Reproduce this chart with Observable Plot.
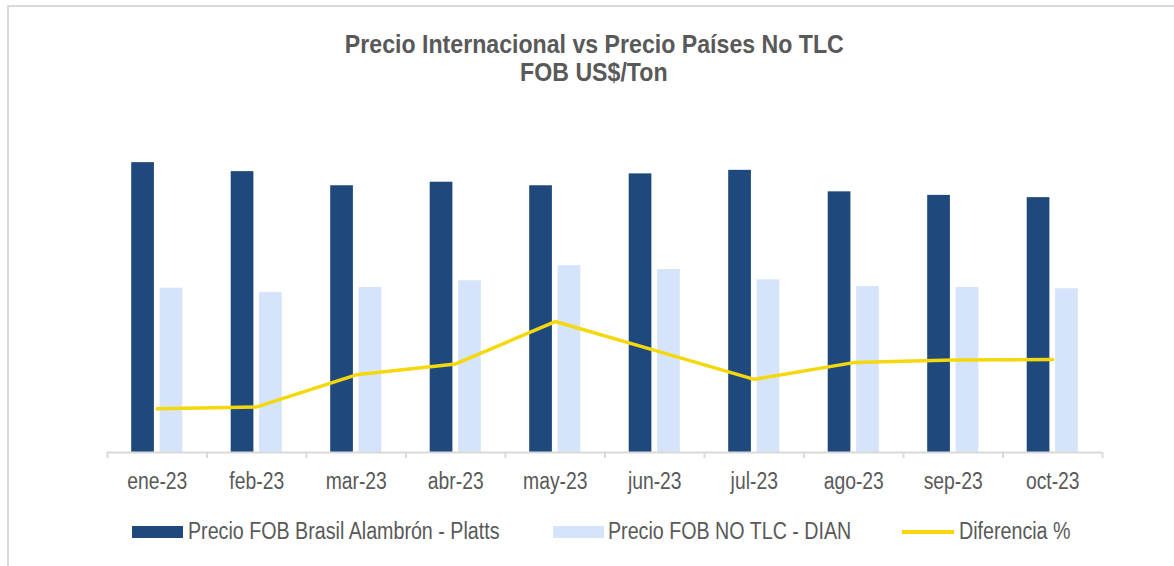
<!DOCTYPE html>
<html>
<head>
<meta charset="utf-8">
<script src="https://cdn.jsdelivr.net/npm/d3@7"></script>
<script src="https://cdn.jsdelivr.net/npm/@observablehq/plot@0.6"></script>
<style>
  html, body { margin: 0; padding: 0; background: #fff; }
  #wrap { position: relative; width: 1174px; height: 566px; overflow: hidden;
          font-family: "Liberation Sans Narrow", "Arial Narrow", "Liberation Sans", Arial, sans-serif; color: #595959; }
  #frame { position: absolute; left: 7px; top: 5px; width: 1200px; height: 600px;
           border-top: 2px solid #d9d9d9; border-left: 2px solid #d9d9d9; }
  .title { position: absolute; left: 194px; width: 800px; text-align: center;
           font-weight: bold; font-size: 26px; line-height: 26px; white-space: nowrap; }
  .title span { display: inline-block; transform: scaleX(0.89); transform-origin: center; }
  #chart { position: absolute; left: 0; top: 0; }
  .leg { position: absolute; top: 520px; font-size: 23px; line-height: 23px; white-space: nowrap;
         transform: scaleX(0.855); transform-origin: left center; }
  .sw { position: absolute; }
</style>
</head>
<body>
<div id="wrap">
  <div id="frame"></div>
  <div class="title" style="top:31px"><span>Precio Internacional vs Precio Países No TLC</span></div>
  <div class="title" style="top:59px"><span>FOB US$/Ton</span></div>
  <div id="chart"></div>
  <div class="sw" style="left:132px; top:526px; width:51px; height:12px; background:#1F497D"></div>
  <div class="leg" style="left:188px">Precio FOB Brasil Alambrón - Platts</div>
  <div class="sw" style="left:553px; top:526px; width:51px; height:12px; background:#D5E4FB"></div>
  <div class="leg" style="left:608px">Precio FOB NO TLC - DIAN</div>
  <div class="sw" style="left:902px; top:530px; width:52px; height:3.5px; background:#F4D80C"></div>
  <div class="leg" style="left:959px">Diferencia %</div>
</div>
<script>
// Data
const months = ["ene-23", "feb-23", "mar-23", "abr-23", "may-23", "jun-23", "jul-23", "ago-23", "sep-23", "oct-23"];
const platts = [903, 875, 831, 842, 831, 868, 879, 812, 801, 794];       // Precio FOB Brasil Alambrón - Platts (US$/Ton)
const dian = [512, 498, 514, 535, 582, 570, 538, 517, 514, 510];         // Precio FOB NO TLC - DIAN (US$/Ton)
const diferencia = [-43.2, -42.9, -37.9, -36.2, -29.6, -34.1, -38.6, -36.0, -35.6, -35.5]; // Diferencia % (secondary axis)

const priceDomain = [0, 1000];
const pctDomain = [-50, 0];

const rows = months.map((m, i) => ({month: m, platts: platts[i], dian: dian[i], diff: diferencia[i]}));
// map the secondary (%) axis onto the primary one
const toPrimary = v => priceDomain[0] + (v - pctDomain[0]) / (pctDomain[1] - pctDomain[0]) * (priceDomain[1] - priceDomain[0]);

const W = 1174, H = 500, ML = 107, MR = 72;
const step = (W - ML - MR) / months.length;
const barW = 22.7, gap = 5.7;
const inset = (step - barW) / 2;
const off = (barW + gap) / 2;

const chart = Plot.plot({
  width: W, height: H,
  marginLeft: ML, marginRight: MR, marginTop: 131, marginBottom: 48,
  x: {domain: months, padding: 0, round: false, tickSize: 0, tickPadding: 20, label: null},
  y: {domain: priceDomain, axis: null},
  style: {fontFamily: '"Liberation Sans Narrow", "Arial Narrow", "Liberation Sans", Arial, sans-serif', fontSize: "23px", color: "#595959", background: "transparent"},
  marks: [
    Plot.barY(rows, {x: "month", y: "platts", fill: "#1F497D", dx: -off, insetLeft: inset, insetRight: inset}),
    Plot.barY(rows, {x: "month", y: "dian", fill: "#D5E4FB", dx: off, insetLeft: inset, insetRight: inset}),
    Plot.ruleY([0], {stroke: "#d9d9d9", strokeWidth: 2}),
    Plot.ruleX(months, {x: d => d, y1: 0, y2: 0, dx: -step / 2, insetBottom: -6, stroke: "#d9d9d9", strokeWidth: 2}),
    Plot.ruleX(months.slice(-1), {x: d => d, y1: 0, y2: 0, dx: step / 2, insetBottom: -6, stroke: "#d9d9d9", strokeWidth: 2}),
    Plot.line(rows, {x: "month", y: d => toPrimary(d.diff), stroke: "#F4D80C", strokeWidth: 3.5})
  ]
});
document.getElementById("chart").appendChild(chart);
// condense tick labels to mimic a narrow font
chart.querySelectorAll("text").forEach(t => {
  const w = t.getComputedTextLength();
  t.setAttribute("textLength", (w * 0.84).toFixed(1));
  t.setAttribute("lengthAdjust", "spacingAndGlyphs");
});
</script>
</body>
</html>
